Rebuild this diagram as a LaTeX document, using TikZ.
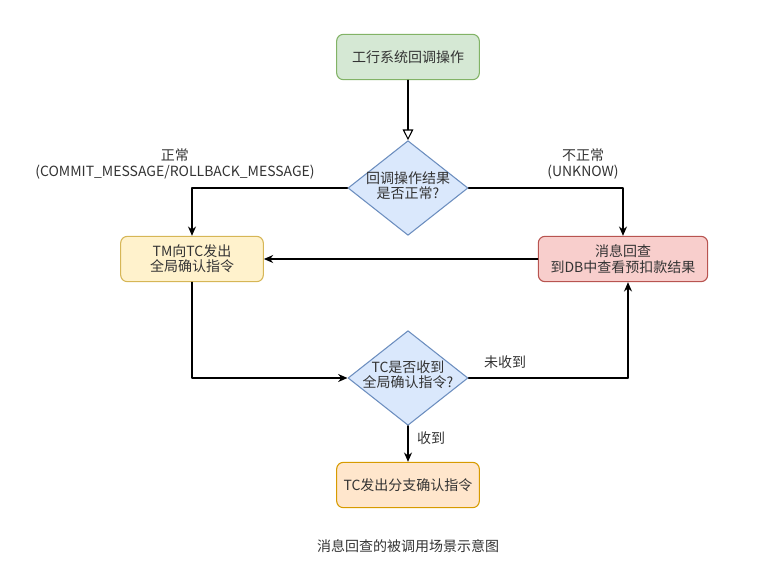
\documentclass[tikz,border=0pt]{standalone}
\usepackage{fontspec}
\setmainfont{Noto Sans CJK SC}
\usepackage{tikz}
\usetikzlibrary{arrows.meta, shapes.geometric, positioning}
\definecolor{boxgreen}{HTML}{D5E8D4}
\definecolor{linegreen}{HTML}{82B366}
\definecolor{boxblue}{HTML}{DAE8FC}
\definecolor{lineblue}{HTML}{6C8EBF}
\definecolor{boxyellow}{HTML}{FFF2CC}
\definecolor{lineyellow}{HTML}{D6B656}
\definecolor{boxred}{HTML}{F8CECC}
\definecolor{linered}{HTML}{B85450}
\definecolor{boxorange}{HTML}{FFE6CC}
\definecolor{lineorange}{HTML}{D79B00}
\definecolor{textgrey}{HTML}{333333}

\begin{document}
\begin{tikzpicture}[x=0.75pt, y=-0.75pt, line cap=round, line join=round, >={Stealth[length=7pt,width=6pt]},
    every node/.style={font=\fontsize{10.5}{11.5}\selectfont, text=textgrey, align=center},
    stepbox/.style={draw, rounded corners=5pt, line width=0.8pt, minimum width=107pt, minimum height=34pt, inner sep=1pt},
    decision/.style={diamond, draw=lineblue, fill=boxblue, line width=0.8pt, minimum width=90pt, minimum height=71pt, inner sep=0pt},
    flow/.style={draw=black, line width=0.8pt, ->}]
    	\useasboundingbox (0,0) rectangle (779,568);

    	\node[stepbox, draw=linegreen, fill=boxgreen] (start) at (408,57) {工行系统回调操作};
    	\node[decision] (check) at (408,188) {};
    	\node (checktext) at (408,186) {回调操作结果\\是否正常?};
    	\node[stepbox, draw=lineyellow, fill=boxyellow] (confirm) at (192,259) {TM向TC发出\\全局确认指令};
    	\node[stepbox, draw=linered, fill=boxred, minimum width=127pt] (query) at (623,259) {消息回查\\到DB中查看预扣款结果};
    	\node[decision] (received) at (408,378) {};
    	\node (receivedtext) at (408,375) {TC是否收到\\全局确认指令?};
    	\node[stepbox, draw=lineorange, fill=boxorange] (branch) at (408,485) {TC发出分支确认指令};

    	\coordinate (backup) at (628,378);

		\draw [draw=black, line width=0.8pt, -{Triangle[open,length=8pt,width=8pt]}] (start)--(check);
		\draw [flow] (check.west) -| (confirm.north);
		\draw [flow] (check.east) -| (query.north);
		\draw [flow] (query.west)--(confirm.east);
		\draw [flow] (confirm.south) |- (received.west);
		\draw [draw=black, line width=0.8pt] (received.east)--(backup);
		\draw [flow] (backup)--(backup |- query.south);
		\draw [flow] (received.south)--(branch.north);

		\node (normal) at (175,164) {正常\\(COMMIT\_MESSAGE/ROLLBACK\_MESSAGE)};
		\node (abnormal) at (583,164) {不正常\\(UNKNOW)};
		\node (missed) at (505,362) {未收到};
		\node (got) at (431,438) {收到};
		\node (caption) at (408,546) {消息回查的被调用场景示意图};
    \end{tikzpicture}
\end{document}
